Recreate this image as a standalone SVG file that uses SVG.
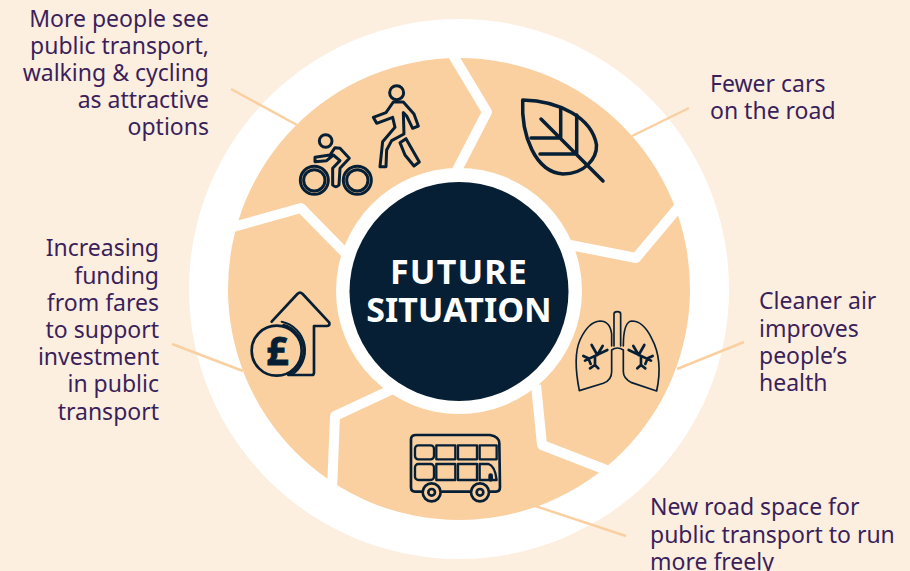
<svg xmlns="http://www.w3.org/2000/svg" width="910" height="571" viewBox="0 0 910 571">
<style>
text{font-family:"Noto Sans","Liberation Sans",sans-serif}
.l{font-size:23px;fill:#3b1f5b}
.e{text-anchor:end}
.sep{fill:none;stroke:#fff;stroke-width:10;stroke-linejoin:round}
.lead{fill:none;stroke:#fad0a0;stroke-width:2.5}
.ic{fill:none;stroke:#061f34;stroke-linejoin:round;stroke-linecap:round}
.t{font-size:34px;font-weight:700;fill:#fff;text-anchor:middle}
</style>
<rect width="910" height="571" fill="#fcefe0"/>
<g id="ring">
<circle cx="459" cy="289" r="270" fill="#fff"/>
<circle cx="459" cy="289" r="231" fill="#fad0a0"/>
</g>
<g id="connectors">
<path class="sep" d="M451 52L487 112L456 172"/>
<path class="sep" d="M682 203L636 258L565 244"/>
<path class="sep" d="M536 385L542 445L614 473"/>
<path class="sep" d="M395 388L335 416L332 490"/>
<path class="sep" d="M226 229L301 208L350 258"/>
<path class="lead" d="M231 89L297 125"/>
<path class="lead" d="M689 108L632 136"/>
<path class="lead" d="M744 342L677 369"/>
<path class="lead" d="M626 536L535 506"/>
<path class="lead" d="M172 344L243 371"/>
</g>
<g id="hub">
<circle cx="459" cy="291" r="123" fill="#fff"/>
<circle cx="459" cy="291.500" r="109.500" fill="#061f34"/>
<text class="t" x="459" y="284" letter-spacing="1.200">FUTURE</text>
<text class="t" x="459" y="322">SITUATION</text>
</g>
<g id="node-active-travel">
<text class="l e" x="209" y="27">More people see</text>
<text class="l e" x="209" y="54">public transport,</text>
<text class="l e" x="209" y="81">walking &amp; cycling</text>
<text class="l e" x="209" y="108">as attractive</text>
<text class="l e" x="209" y="135">options</text>
<g class="ic" transform="translate(230 40) scale(.3333)" stroke-width="9">
<circle cx="500" cy="158" r="21"/>
<path d="M490 186L520 186L552 222L565 258L548 265L530 228L520 218L522 282L485 302L470 330L468 380L450 380L458 305L495 262L488 232L440 250L430 232L468 218Z"/>
<path d="M510 308L528 296L568 366L552 378L525 345Z"/>
<circle cx="287" cy="303" r="19"/>
<circle cx="253" cy="421" r="42"/><circle cx="253" cy="421" r="32"/>
<circle cx="382" cy="421" r="42"/><circle cx="382" cy="421" r="32"/>
<path d="M255 352L300 345L315 323L330 325L358 355L330 385L327 435Q318 445 308 435L308 385L330 362L310 345L290 362L255 365Z"/>
</g>
</g>
<g id="node-fewer-cars">
<text class="l" x="710" y="92">Fewer cars</text>
<text class="l" x="710" y="119">on the road</text>
<g class="ic" stroke-width="3.500">
<path d="M522.700 100C560 101 592 118 596.500 145C597 158 585 174 563 174C535 172 521 135 522.700 100Z"/>
<path d="M541 119L603 181M560.700 108V138H531M576.700 115V154H540"/>
</g>
</g>
<g id="node-clean-air">
<text class="l" x="759" y="309">Cleaner air</text>
<text class="l" x="759" y="337">improves</text>
<text class="l" x="759" y="364">people’s</text>
<text class="l" x="759" y="391">health</text>
<g class="ic" transform="translate(520 240) scale(.3333)">
<g stroke-width="5">
<path d="M282 318V222Q282 215 292 215Q302 215 302 222V318"/>
<path d="M275 318V282Q270 243 240 243Q205 245 180 300Q158 350 178 452L250 430Q275 420 275 395V330Q292 318 310 330V395Q310 415 335 428L410 453Q430 360 395 295Q370 243 335 243Q310 245 310 318"/>
</g>
<g stroke-width="8">
<path d="M262 330L195 362M232 345L215 315M232 345L248 318M205 355L190 348M205 355L212 372M225 350V375M225 375L210 385M225 375L235 385"/>
<path d="M326 330L393 362M356 345L373 315M356 345L340 318M383 355L398 348M383 355L376 372M363 350V375M363 375L352 385M363 375L376 385"/>
</g>
</g>
</g>
<g id="node-road-space">
<text class="l" x="650" y="515">New road space for</text>
<text class="l" x="650" y="543">public transport to run</text>
<text class="l" x="650" y="570">more freely</text>
<g class="ic" transform="translate(320 380) scale(.3333)" stroke-width="8">
<path d="M305 335H285Q273 335 273 322V178Q273 165 288 165H510Q538 170 538 190L540 322Q540 335 528 335H508M367 335H450"/>
<circle cx="335" cy="337" r="27"/><circle cx="335" cy="337" r="10"/>
<circle cx="480" cy="337" r="27"/><circle cx="480" cy="337" r="10"/>
<g stroke-width="7">
<rect x="285" y="196" width="57" height="42" rx="10"/>
<rect x="349" y="196" width="57" height="42"/>
<rect x="414" y="196" width="57" height="42"/>
<rect x="479" y="196" width="51" height="42"/>
<rect x="285" y="252" width="57" height="48" rx="10"/>
<rect x="349" y="252" width="57" height="48"/>
<rect x="414" y="252" width="57" height="48"/>
<path d="M479 252H505Q525 258 530 300H479Z"/>
</g>
<path d="M512 298V287" stroke-width="14"/>
</g>
</g>
<g id="node-funding">
<text class="l e" x="159" y="256">Increasing</text>
<text class="l e" x="159" y="284">funding</text>
<text class="l e" x="159" y="311">from fares</text>
<text class="l e" x="159" y="338">to support</text>
<text class="l e" x="159" y="365">investment</text>
<text class="l e" x="159" y="392">in public</text>
<text class="l e" x="159" y="420">transport</text>
<g class="ic" transform="translate(220 220) scale(.3333)" stroke-width="8">
<circle cx="170" cy="392" r="75"/>
<g stroke-width="6">
<path d="M185 305A88 88 0 0 1 215 465"/>
<path d="M190 314A80 80 0 0 1 205 464"/>
</g>
<path d="M155 305L232 222Q240 214 248 222L328 308Q330 318 320 318H282V458Q282 465 275 465H205"/>
</g>
<text x="277.500" y="365" font-size="39" font-weight="700" fill="#061f34" stroke="#061f34" stroke-width=".8" text-anchor="middle">£</text>
</g>
</svg>
